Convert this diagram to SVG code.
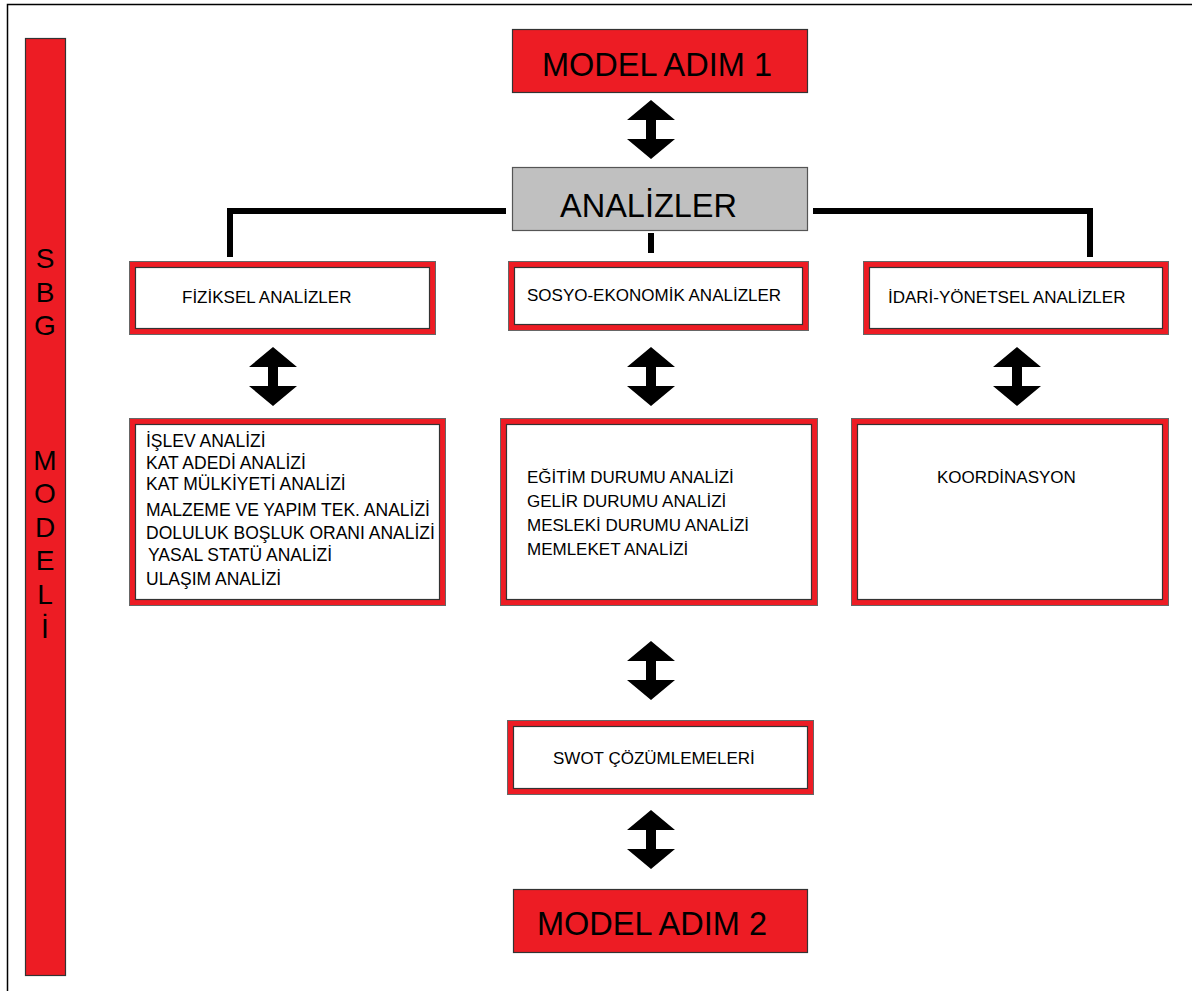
<svg xmlns="http://www.w3.org/2000/svg" width="1192" height="991" viewBox="0 0 1192 991">
<style>
.t{font-family:"Liberation Sans",Arial,sans-serif;fill:#000}
.big{font-size:32.5px}
.sm{font-size:17px}
.lst{font-size:17.5px}
.sbg{font-size:28px;text-anchor:middle}
.redbox{fill:#ED1C24;stroke:#333;stroke-width:1.2}
.gray{fill:#C0C0C0;stroke:#555;stroke-width:1.2}
.frameOut{fill:#ED1C24;stroke:#666;stroke-width:1}
.frameIn{fill:#fff;stroke:#333;stroke-width:1.2}
.conn{fill:none;stroke:#000;stroke-width:6}
.arr{fill:#000}
</style>
<defs>
<path id="dbl" d="M0,0 L24,20 L5,20 L5,39 L24,39 L0,59 L-24,39 L-5,39 L-5,20 L-24,20 Z"/>
</defs>
<rect width="1192" height="991" fill="#fff"/>
<path d="M7.5,991 V4.5 H1192" fill="none" stroke="#000" stroke-width="1.5"/>

<g id="sbg-modeli">
<rect x="25.5" y="38.5" width="40" height="937" class="redbox"/>
<text class="t sbg" x="45" y="268">S</text>
<text class="t sbg" x="45" y="301.6">B</text>
<text class="t sbg" x="45" y="335.2">G</text>
<text class="t sbg" x="45" y="469.6">M</text>
<text class="t sbg" x="45" y="503.2">O</text>
<text class="t sbg" x="45" y="536.8">D</text>
<text class="t sbg" x="45" y="570.4">E</text>
<text class="t sbg" x="45" y="604">L</text>
<text class="t sbg" x="45" y="637.6">İ</text>
</g>

<g id="model-adim-1">
<rect x="512.5" y="29.5" width="295" height="63" class="redbox"/>
<text class="t big" x="542" y="76">MODEL ADIM 1</text>
</g>

<g id="analizler">
<rect x="512.5" y="167.5" width="295" height="63" class="gray"/>
<text class="t big" x="560" y="217">ANALİZLER</text>
</g>

<g id="fiziksel">
<rect x="129.5" y="261.5" width="306" height="73" class="frameOut"/>
<rect x="135.5" y="267.5" width="294" height="61" class="frameIn"/>
<text class="t sm" x="182" y="303">FİZİKSEL ANALİZLER</text>
</g>

<g id="sosyo">
<rect x="508.5" y="261.5" width="300" height="69" class="frameOut"/>
<rect x="514.5" y="267.5" width="288" height="57" class="frameIn"/>
<text class="t sm" x="527" y="301">SOSYO-EKONOMİK ANALİZLER</text>
</g>

<g id="idari">
<rect x="863.5" y="261.5" width="305" height="73" class="frameOut"/>
<rect x="869.5" y="267.5" width="293" height="61" class="frameIn"/>
<text class="t sm" x="888" y="303">İDARİ-YÖNETSEL ANALİZLER</text>
</g>

<g id="fiziksel-list">
<rect x="129.5" y="418.5" width="316" height="187" class="frameOut"/>
<rect x="135.5" y="424.5" width="304" height="175" class="frameIn"/>
<text class="t lst" x="146" y="447">İŞLEV ANALİZİ</text>
<text class="t lst" x="146" y="469">KAT ADEDİ ANALİZİ</text>
<text class="t lst" x="146" y="490">KAT MÜLKİYETİ ANALİZİ</text>
<text class="t lst" x="146" y="516">MALZEME VE YAPIM TEK. ANALİZİ</text>
<text class="t lst" x="146" y="539">DOLULUK BOŞLUK ORANI ANALİZİ</text>
<text class="t lst" x="148" y="561">YASAL STATÜ ANALİZİ</text>
<text class="t lst" x="146" y="585">ULAŞIM ANALİZİ</text>
</g>

<g id="sosyo-list">
<rect x="500.5" y="418.5" width="317" height="187" class="frameOut"/>
<rect x="506.5" y="424.5" width="305" height="175" class="frameIn"/>
<text class="t sm" x="527" y="483">EĞİTİM DURUMU ANALİZİ</text>
<text class="t sm" x="527" y="507">GELİR DURUMU ANALİZİ</text>
<text class="t sm" x="527" y="531">MESLEKİ DURUMU ANALİZİ</text>
<text class="t sm" x="527" y="555">MEMLEKET ANALİZİ</text>
</g>

<g id="koordinasyon">
<rect x="851.5" y="418.5" width="317" height="187" class="frameOut"/>
<rect x="857.5" y="424.5" width="305" height="175" class="frameIn"/>
<text class="t sm" x="937" y="483">KOORDİNASYON</text>
</g>

<g id="swot">
<rect x="507.5" y="720.5" width="306" height="74" class="frameOut"/>
<rect x="513.5" y="726.5" width="294" height="62" class="frameIn"/>
<text class="t sm" x="553" y="764">SWOT ÇÖZÜMLEMELERİ</text>
</g>

<g id="model-adim-2">
<rect x="513.5" y="889.5" width="294" height="63" class="redbox"/>
<text class="t big" x="537" y="935">MODEL ADIM 2</text>
</g>

<g id="connectors">
<path class="conn" d="M506,211 H230 V257"/>
<path class="conn" d="M813,211 H1090 V257"/>
<path class="conn" d="M651,233 V253"/>
<use href="#dbl" class="arr" x="651" y="100"/>
<use href="#dbl" class="arr" x="273" y="347"/>
<use href="#dbl" class="arr" x="651" y="347"/>
<use href="#dbl" class="arr" x="1017" y="347"/>
<use href="#dbl" class="arr" x="651" y="641"/>
<use href="#dbl" class="arr" x="651" y="810"/>
</g>
</svg>
